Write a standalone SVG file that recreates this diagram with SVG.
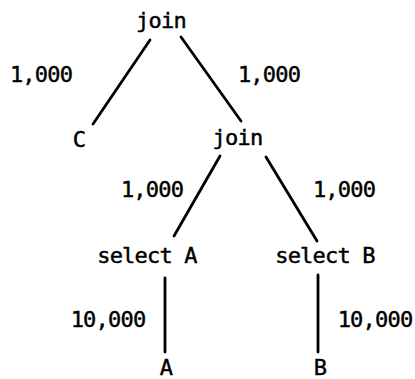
<svg xmlns="http://www.w3.org/2000/svg" width="415" height="379" viewBox="0 0 415 379">
<style>
text{font-family:"DejaVu Sans Mono","Liberation Mono",monospace;font-size:22px;letter-spacing:-0.8px;fill:#000;stroke:#000;stroke-width:0.45px;text-anchor:middle}
.e{stroke:#000;stroke-width:2.8;stroke-linecap:round;fill:none}
</style>
<rect width="415" height="379" fill="#fff"/>
<g id="connectors">
<line class="e" x1="150" y1="40" x2="93" y2="124"/>
<line class="e" x1="181" y1="37" x2="241" y2="121"/>
<line class="e" x1="220" y1="156" x2="174" y2="236"/>
<line class="e" x1="266" y1="157" x2="317" y2="241"/>
<line class="e" x1="165" y1="278" x2="165" y2="352"/>
<line class="e" x1="318" y1="275" x2="318" y2="352"/>
</g>
<g id="labels">
<text x="41" y="82">1,000</text>
<text x="269" y="82">1,000</text>
<text x="152" y="197">1,000</text>
<text x="344" y="197">1,000</text>
<text x="108" y="327">10,000</text>
<text x="375" y="327">10,000</text>
</g>
<g id="join1"><text x="161" y="28">join</text></g>
<g id="C"><text x="79" y="147">C</text></g>
<g id="join2"><text x="237.5" y="145">join</text></g>
<g id="selectA"><text x="147" y="263">select A</text></g>
<g id="selectB"><text x="325" y="263">select B</text></g>
<g id="A"><text x="166" y="375">A</text></g>
<g id="B"><text x="320" y="375">B</text></g>
</svg>
